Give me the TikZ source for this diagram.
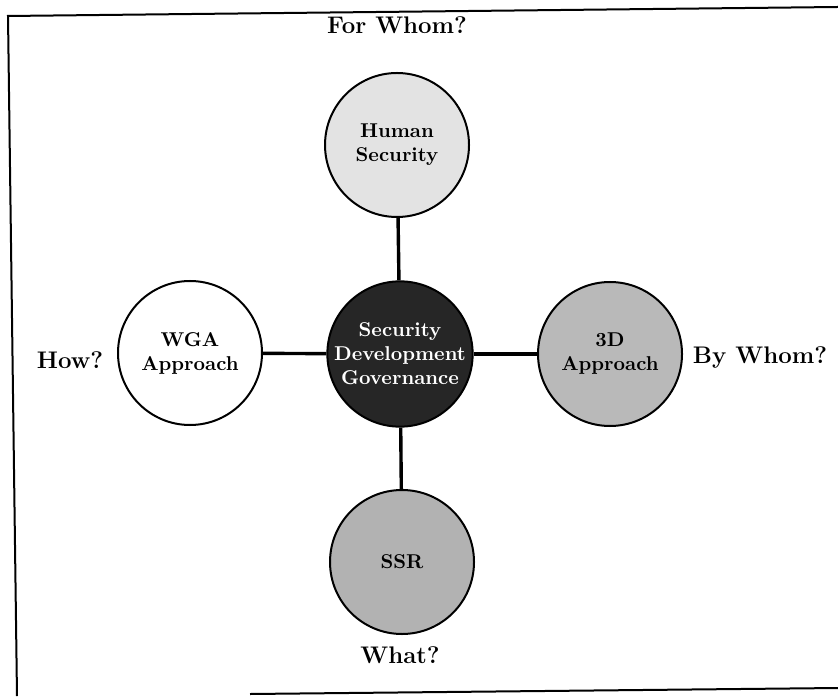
\documentclass[tikz,border=0pt]{standalone}
\usepackage{tikz}
\usetikzlibrary{positioning}

\tikzset{
  ball/.style={circle,draw=black,line width=1pt,minimum size=72pt,inner sep=0pt,align=center,font=\bfseries},
  askq/.style={font=\large\bfseries},
  spoke/.style={line width=1.7pt}
}

\begin{document}
\begin{tikzpicture}[x=0.5pt,y=0.5pt]
\useasboundingbox (0,0) rectangle (838,696);
% frame
\draw[line width=1pt] (838,689) -- (8,680) -- (17,0);
\draw[line width=1pt] (250,2) -- (838,8);

\node[ball,fill=black!85,text=white] (core) at (400,342) {Security\\Development\\Governance};
\node[ball,fill=gray!22] (hum) at (397,551) {Human\\Security};
\node[ball,fill=white] (wga) at (190,343) {WGA\\Approach};
\node[ball,fill=gray!55] (thd) at (610,342) {3D\\Approach};
\node[ball,fill=gray!60] (ssr) at (402,134) {SSR};

\draw[spoke] (hum) -- (core);
\draw[spoke] (wga) -- (core);
\draw[spoke] (core) -- (thd);
\draw[spoke] (core) -- (ssr);

\node[askq] (forq) at (397,671) {For Whom?};
\node[askq] (howq) at (70,336) {How?};
\node[askq] (byq) at (760,338) {By Whom?};
\node[askq] (whatq) at (400,41) {What?};
\end{tikzpicture}
\end{document}
